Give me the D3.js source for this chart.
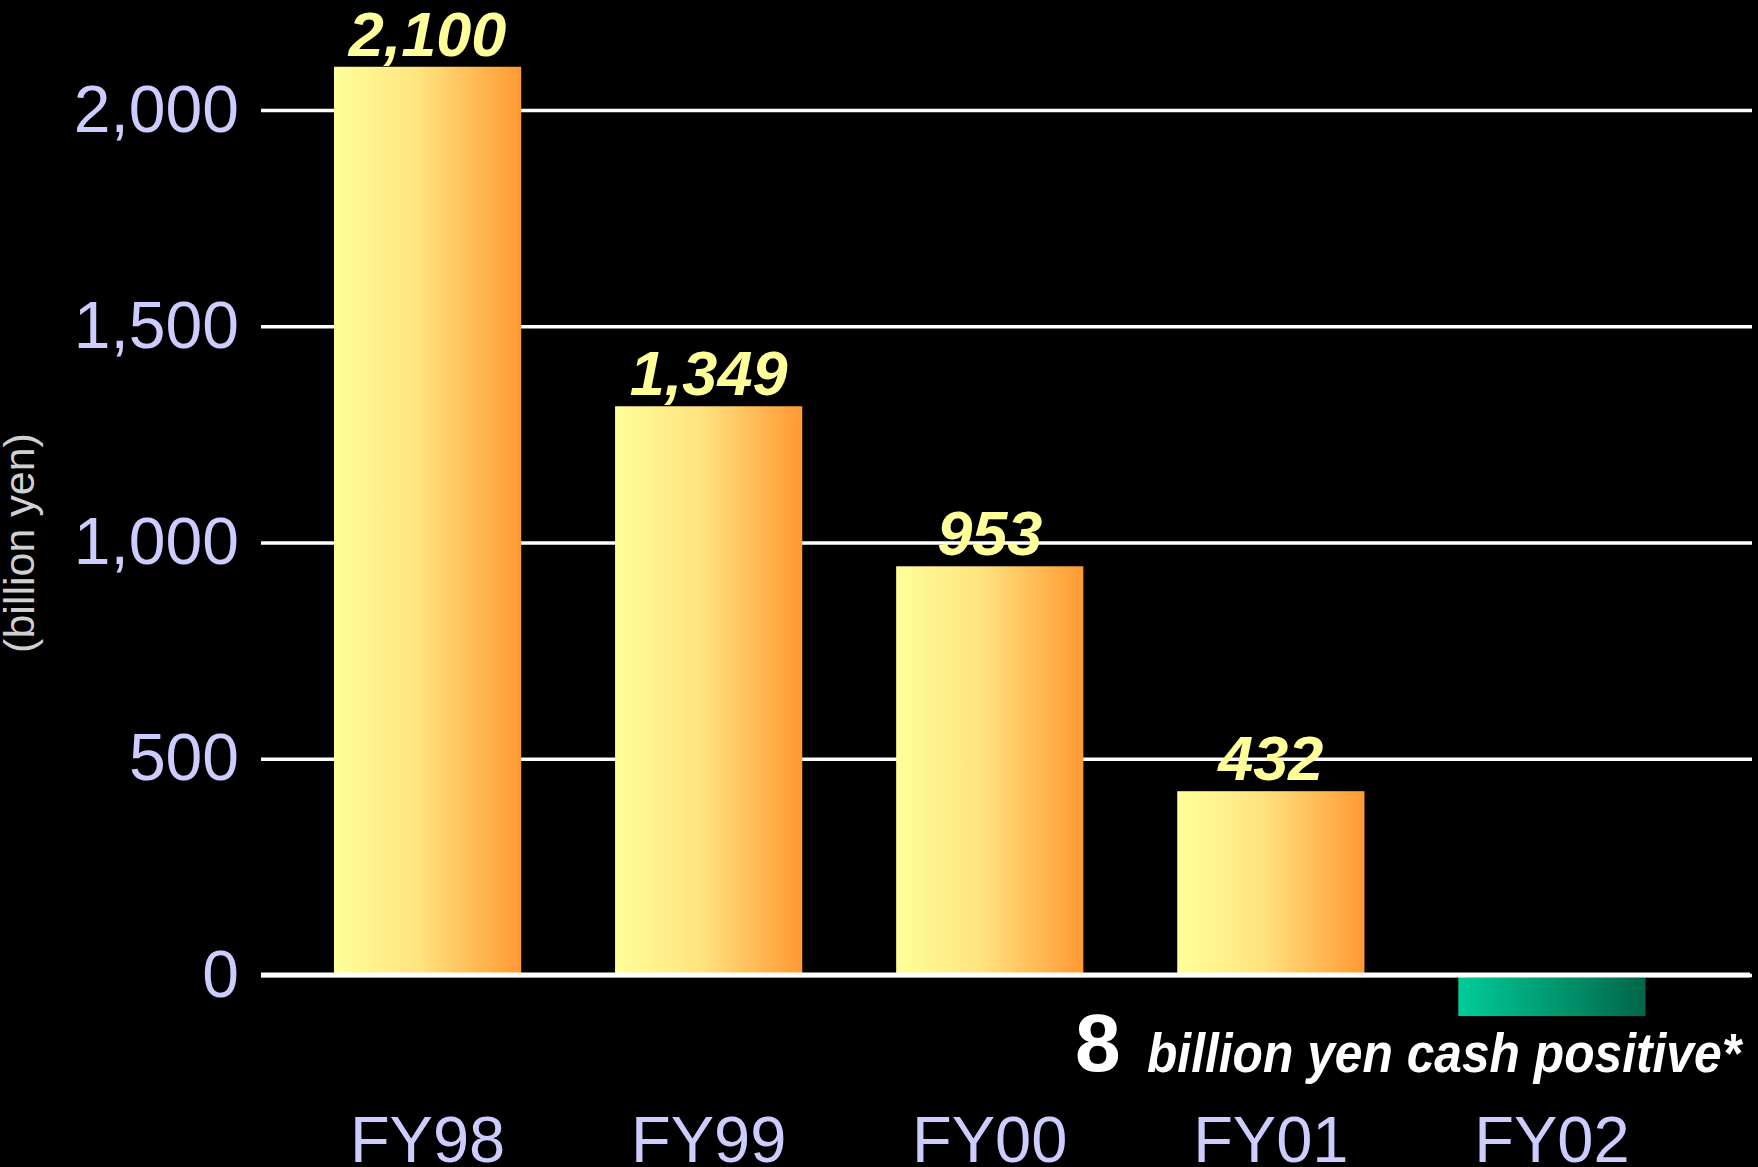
<!DOCTYPE html>
<html>
<head>
<meta charset="utf-8">
<script src="https://cdn.jsdelivr.net/npm/d3@7"></script>
<style>
  html, body { margin: 0; padding: 0; background: #000; }
  svg { display: block; }
</style>
</head>
<body>
<div id="chart"></div>
<script>
// values
var years = ["FY98", "FY99", "FY00", "FY01", "FY02"];
var reported = [2100, 1349, 953, 432, null];     // numbers printed above the bars
var barHeights = [2100, 1315, 945, 425, -95];    // bar lengths as drawn (FY02 bar is exaggerated)
var yTicks = [0, 500, 1000, 1500, 2000];
var cashPositive = 8;
var noteText = "billion yen cash positive*";
var yTitle = "(billion yen)";

var svgwidth = 1758,
    svgheight = 1167;

var svg = d3.select("#chart")
    .append("svg")
    .attr("width", svgwidth)
    .attr("height", svgheight)
    .style("background", "#000");

var font = "'Liberation Sans', Arial, Helvetica, sans-serif";

var x = d3.scaleBand()
    .domain(years)
    .range([240.1, 1739.4])
    .paddingInner(0.334)
    .paddingOuter(0.334);

var y = d3.scaleLinear()
    .domain([0, 2000])
    .range([975, 110]);

var gridLeft = 261, gridRight = 1752;

// gradients
var defs = svg.append("defs");
var gOrange = defs.append("linearGradient").attr("id", "orange")
    .attr("x1", "0%").attr("x2", "100%").attr("y1", "0%").attr("y2", "0%");
gOrange.append("stop").attr("offset", "0%").attr("stop-color", "#ffff99");
gOrange.append("stop").attr("offset", "45%").attr("stop-color", "#ffe480");
gOrange.append("stop").attr("offset", "100%").attr("stop-color", "#ff9933");

var gGreen = defs.append("linearGradient").attr("id", "green")
    .attr("x1", "0%").attr("x2", "100%").attr("y1", "0%").attr("y2", "0%");
gGreen.append("stop").attr("offset", "0%").attr("stop-color", "#00cc99");
gGreen.append("stop").attr("offset", "100%").attr("stop-color", "#006648");

// y axis: gridlines + tick labels
var yAxis = svg.append("g")
    .attr("transform", "translate(" + gridLeft + ",0)")
    .call(d3.axisLeft(y)
      .tickValues(yTicks)
      .tickFormat(d3.format(","))
      .tickSize(-(gridRight - gridLeft))
      .tickPadding(22));

yAxis.select(".domain").remove();
yAxis.selectAll(".tick line")
    .attr("stroke", "#fff")
    .attr("stroke-width", 3.5);
yAxis.selectAll(".tick text")
    .attr("fill", "#ccccff")
    .style("font-family", font)
    .style("font-size", "66px");

// bars
svg.selectAll(".bar")
  .data(years)
  .enter().append("rect")
    .attr("class", "bar")
    .attr("x", function(d) { return x(d); })
    .attr("width", x.bandwidth())
    .attr("y", function(d, i) { return y(Math.max(0, barHeights[i])); })
    .attr("height", function(d, i) { return Math.abs(y(barHeights[i]) - y(0)); })
    .attr("fill", function(d, i) { return barHeights[i] < 0 ? "url(#green)" : "url(#orange)"; });

// zero line on top of the bars
svg.append("line")
    .attr("x1", gridLeft)
    .attr("x2", gridRight - 2)
    .attr("y1", y(0))
    .attr("y2", y(0))
    .attr("stroke", "#fff")
    .attr("stroke-width", 5);

// value labels
svg.selectAll(".value")
  .data(years.filter(function(d, i) { return reported[i] !== null; }))
  .enter().append("text")
    .attr("class", "value")
    .attr("x", function(d) { return x(d) + x.bandwidth() / 2; })
    .attr("y", function(d, i) { return y(barHeights[i]) - 11; })
    .attr("text-anchor", "middle")
    .attr("fill", "#ffff99")
    .style("font-family", font)
    .style("font-weight", "bold")
    .style("font-style", "italic")
    .style("font-size", "63px")
    .text(function(d, i) { return d3.format(",")(reported[i]); });

// category labels
svg.selectAll(".year")
  .data(years)
  .enter().append("text")
    .attr("class", "year")
    .attr("x", function(d) { return x(d) + x.bandwidth() / 2; })
    .attr("y", 1162)
    .attr("text-anchor", "middle")
    .attr("fill", "#ccccff")
    .style("font-family", font)
    .style("font-size", "65px")
    .text(function(d) { return d; });

// y title
svg.append("text")
    .attr("transform", "translate(34,543) rotate(-90)")
    .attr("text-anchor", "middle")
    .attr("fill", "#cfcfd4")
    .style("font-family", font)
    .style("font-size", "43px")
    .text(yTitle);

// FY02 note
svg.append("text")
    .attr("x", 1075)
    .attr("y", 1071)
    .attr("fill", "#fff")
    .style("font-family", font)
    .style("font-weight", "bold")
    .style("font-size", "82px")
    .text(cashPositive);

svg.append("text")
    .attr("x", 1147)
    .attr("y", 1072)
    .attr("fill", "#fff")
    .attr("textLength", 594)
    .attr("lengthAdjust", "spacingAndGlyphs")
    .style("font-family", font)
    .style("font-weight", "bold")
    .style("font-style", "italic")
    .style("font-size", "55px")
    .text(noteText);
</script>
</body>
</html>
